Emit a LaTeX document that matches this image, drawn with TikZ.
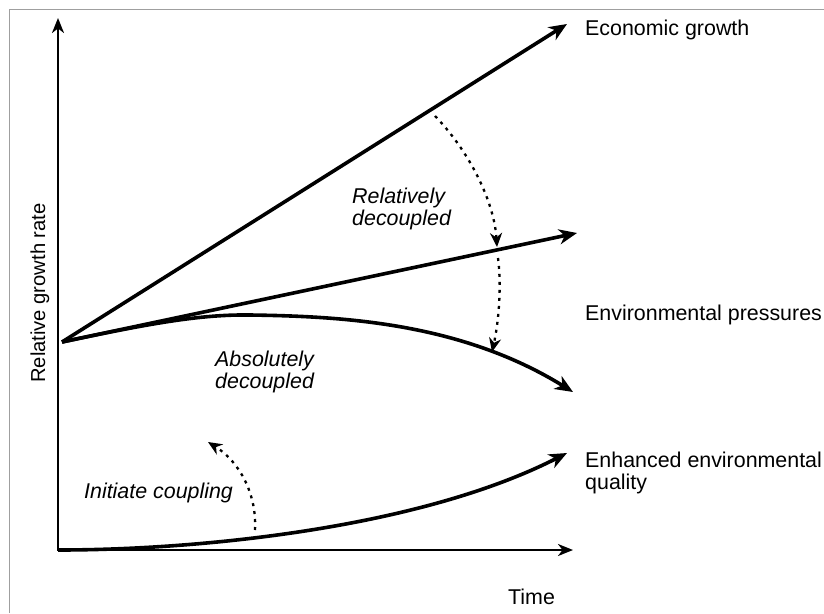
\documentclass[tikz,border=0pt]{standalone}
\usepackage{fontspec}
\setmainfont{Liberation Sans}
\usetikzlibrary{arrows.meta}
\tikzset{
  lbl/.style={inner sep=0pt, anchor=base west, align=left, font=\fontsize{21.4}{22}\selectfont},
  ilbl/.style={lbl, font=\fontsize{21.4}{22}\selectfont\itshape},
  axisline/.style={line width=2.2pt, {Stealth[length=15pt,width=12pt,inset=4.5pt]}-{Stealth[length=15pt,width=12pt,inset=4.5pt]}},
  trend/.style={line width=3.6pt, -{Stealth[length=18pt,width=15pt,inset=5.5pt]}},
  dotshift/.style={line width=2.3pt, dash pattern=on 3pt off 5pt, -{Stealth[length=14pt,width=12pt,inset=4.5pt]}},
  frameline/.style={draw=gray!75, line width=1pt}
}
\begin{document}
\begin{tikzpicture}[x=1pt,y=-1pt]
\useasboundingbox (0,0) rectangle (824,613);
\draw[frameline] (9,613) -- (9,9) -- (824,9);
% coordinates
\coordinate (O) at (58,550);
\coordinate (ytip) at (58,18);
\coordinate (xtip) at (573,550);
\coordinate (S) at (62,342);
\coordinate (econtip) at (567,24);
\coordinate (envtip) at (577,233);
\coordinate (absmid) at (250,315);
\coordinate (abstip) at (573,392);
\coordinate (enhtip) at (567,453);
\coordinate (d1s) at (435,116);
\coordinate (d1e) at (497,247);
\coordinate (d2s) at (498,258);
\coordinate (d2e) at (492,352);
\coordinate (d3s) at (255,530);
\coordinate (d3e) at (208,442);
% axes
\draw[axisline] (ytip) -- (O) -- (xtip);
% trends
\draw[trend] (S) -- (econtip);
\draw[trend] (S) -- (envtip);
\draw[trend] (S) .. controls (150,323.4) and (200,314.3) .. (absmid)
  .. controls (340,316.3) and (460,322) .. (abstip);
\draw[trend] (O) .. controls (200,550) and (420,528) .. (enhtip);
% dotted shifts
\draw[dotshift] (d1s) .. controls (468,150) and (494,200) .. (d1e);
\draw[dotshift] (d2s) .. controls (502,290) and (498,325) .. (d2e);
\draw[dotshift] (d3s) .. controls (257,495) and (240,462) .. (d3e);
% labels
\node[lbl] (econ) at (585,35) {Economic growth};
\node[lbl] (envp) at (585,320) {Environmental pressures};
\node[lbl] (enh) at (585,489) {Enhanced environmental\\quality};
\node[lbl] (time) at (508,604) {Time};
\node[lbl, rotate=90, font=\fontsize{20.2}{22}\selectfont] (ylab) at (45,383) {Relative growth rate};
\node[ilbl] (rel) at (352,225) {Relatively\\decoupled};
\node[ilbl] (abs) at (215,388) {Absolutely\\decoupled};
\node[ilbl] (init) at (84,498) {Initiate coupling};
\end{tikzpicture}
\end{document}
